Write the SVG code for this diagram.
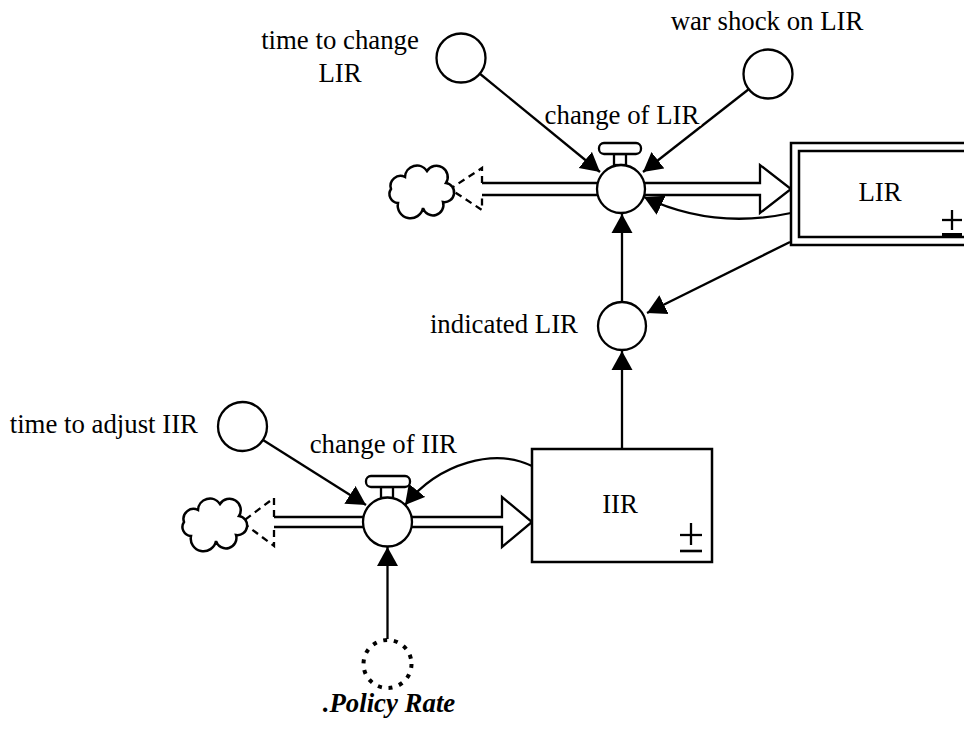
<svg xmlns="http://www.w3.org/2000/svg" width="964" height="729" viewBox="0 0 964 729">
  <style>
    .lbl { font-family: "Liberation Serif", "Times New Roman", serif; font-size: 26.8px; fill: #000; }
    .halo { stroke: #fff; stroke-width: 4px; paint-order: stroke; stroke-linejoin: round; }
    .aux { fill: #fff; stroke: #000; stroke-width: 2.3; }
    .shadow { fill: #fff; stroke: #000; stroke-width: 4; stroke-dasharray: 4 6.8; }
    .link { fill: none; stroke: #000; stroke-width: 2.3; marker-end: url(#arrow); }
    .pipe { fill: #fff; stroke: #000; stroke-width: 2.3; stroke-linejoin: miter; }
    .source { fill: none; stroke: #000; stroke-width: 2.3; stroke-dasharray: 7 5; }
    .cloud { fill: #fff; stroke: #000; stroke-width: 2.5; }
    .stock { fill: #fff; stroke: #000; stroke-width: 2.5; }
    .valve { fill: #fff; stroke: #000; stroke-width: 2.3; }
    .pm { fill: none; stroke: #000; stroke-width: 2.3; }
  </style>
  <defs>
    <marker id="arrow" viewBox="0 -11 19 22" refX="19" refY="0" markerWidth="19" markerHeight="22" markerUnits="userSpaceOnUse" orient="auto">
      <path d="M0,-10.5 L19,0 L0,10.5 z" fill="#000"/>
    </marker>
    <path id="cloudShape" d="M-21,15 A9 9 0 0 1 -28,1 A10 10 0 0 1 -14,-11 A12 12 0 0 1 8,-17 A11 11 0 0 1 27,-5 A9 9 0 0 1 24,14 A10 10 0 0 1 4,20 A12 12 0 0 1 -21,15 Z"/>
  </defs>

  <rect width="964" height="729" fill="#fff"/>

  <!-- material flows (pipes) -->
  <g id="flows">
    <!-- LIR flow: cloud, valve, stock -->
    <line class="pm" x1="482" y1="183" x2="621" y2="183"/>
    <line class="pm" x1="482" y1="195" x2="621" y2="195"/>
    <path class="source" d="M482,183 L482,168 L450,189 L482,210 L482,195"/>
    <path class="pipe" d="M621,183 L760,183 L760,165 L791,189 L760,213 L760,195 L621,195"/>
    <!-- IIR flow -->
    <line class="pm" x1="274" y1="517" x2="388" y2="517"/>
    <line class="pm" x1="274" y1="527" x2="388" y2="527"/>
    <path class="source" d="M274,517 L274,498 L242,522 L274,546 L274,527"/>
    <path class="pipe" d="M388,517 L502,517 L502,497 L532,522 L502,547 L502,527 L388,527"/>
  </g>

  <!-- clouds -->
  <g id="cloud_LIR"><use href="#cloudShape" class="cloud" transform="translate(419,188)"/></g>
  <g id="cloud_IIR"><use href="#cloudShape" class="cloud" transform="translate(212,521)"/></g>

  <!-- information links -->
  <g id="connectors">
    <line class="link" x1="479" y1="73" x2="600" y2="172"/>
    <line class="link" x1="749" y1="89" x2="643" y2="172"/>
    <path class="link" d="M791,213 C740,224 690,219 644,197"/>
    <line class="link" x1="790" y1="242" x2="647" y2="313"/>
    <line class="link" x1="622" y1="302" x2="622" y2="214"/>
    <line class="link" x1="622" y1="449" x2="622" y2="351"/>
    <line class="link" x1="263" y1="440" x2="366" y2="505"/>
    <path class="link" d="M532,466 C495,448 440,462 405,505"/>
    <line class="link" x1="387.5" y1="639" x2="387.5" y2="547"/>
  </g>

  <!-- stock LIR (double border) -->
  <g id="LIR">
    <rect class="stock" x="791" y="143" width="200" height="102"/>
    <rect class="stock" x="799" y="151" width="190" height="86"/>
    <text class="lbl" x="880" y="201" text-anchor="middle">LIR</text>
    <line class="pm" x1="952" y1="210" x2="952" y2="230"/>
    <line class="pm" x1="942" y1="220" x2="962" y2="220"/>
    <line x1="942" y1="234.5" x2="962" y2="234.5" stroke="#000" stroke-width="3"/>
  </g>

  <!-- stock IIR -->
  <g id="IIR">
    <rect class="stock" x="532" y="449" width="180" height="113"/>
    <text class="lbl" x="620" y="513" text-anchor="middle">IIR</text>
    <line class="pm" x1="691" y1="523" x2="691" y2="545"/>
    <line class="pm" x1="680" y1="535" x2="702" y2="535"/>
    <line x1="680" y1="551" x2="702" y2="551" stroke="#000" stroke-width="2.6"/>
  </g>

  <!-- valve: change of LIR -->
  <g id="change_of_LIR">
    <rect class="valve" x="614" y="154" width="12" height="11"/>
    <rect class="valve" x="599" y="143" width="42" height="11" rx="5"/>
    <circle class="aux" cx="621" cy="189" r="24"/>
    <text class="lbl halo" x="622" y="124" text-anchor="middle">change of LIR</text>
  </g>

  <!-- valve: change of IIR -->
  <g id="change_of_IIR">
    <rect class="valve" x="381" y="487" width="12" height="11"/>
    <rect class="valve" x="366" y="476" width="44" height="11" rx="5"/>
    <circle class="aux" cx="387.5" cy="522" r="24.5"/>
    <text class="lbl halo" x="457" y="453" text-anchor="end">change of IIR</text>
  </g>

  <g id="time_to_change_LIR">
    <circle class="aux" cx="461" cy="58" r="24.5"/>
    <text class="lbl" x="340" y="49" text-anchor="middle">time to change</text>
    <text class="lbl" x="340" y="82" text-anchor="middle">LIR</text>
  </g>

  <g id="war_shock_on_LIR">
    <circle class="aux" cx="768" cy="74" r="24.5"/>
    <text class="lbl" x="767" y="30" text-anchor="middle">war shock on LIR</text>
  </g>

  <g id="indicated_LIR">
    <circle class="aux" cx="622" cy="326" r="24"/>
    <text class="lbl" x="578" y="333" text-anchor="end">indicated LIR</text>
  </g>

  <g id="time_to_adjust_IIR">
    <circle class="aux" cx="242.5" cy="426.5" r="24.5"/>
    <text class="lbl" x="198" y="433" text-anchor="end">time to adjust IIR</text>
  </g>

  <g id="Policy_Rate">
    <circle class="shadow" cx="387.5" cy="664" r="24"/>
    <text class="lbl" x="389" y="712" text-anchor="middle" font-weight="bold" font-style="italic">.Policy Rate</text>
  </g>
</svg>
